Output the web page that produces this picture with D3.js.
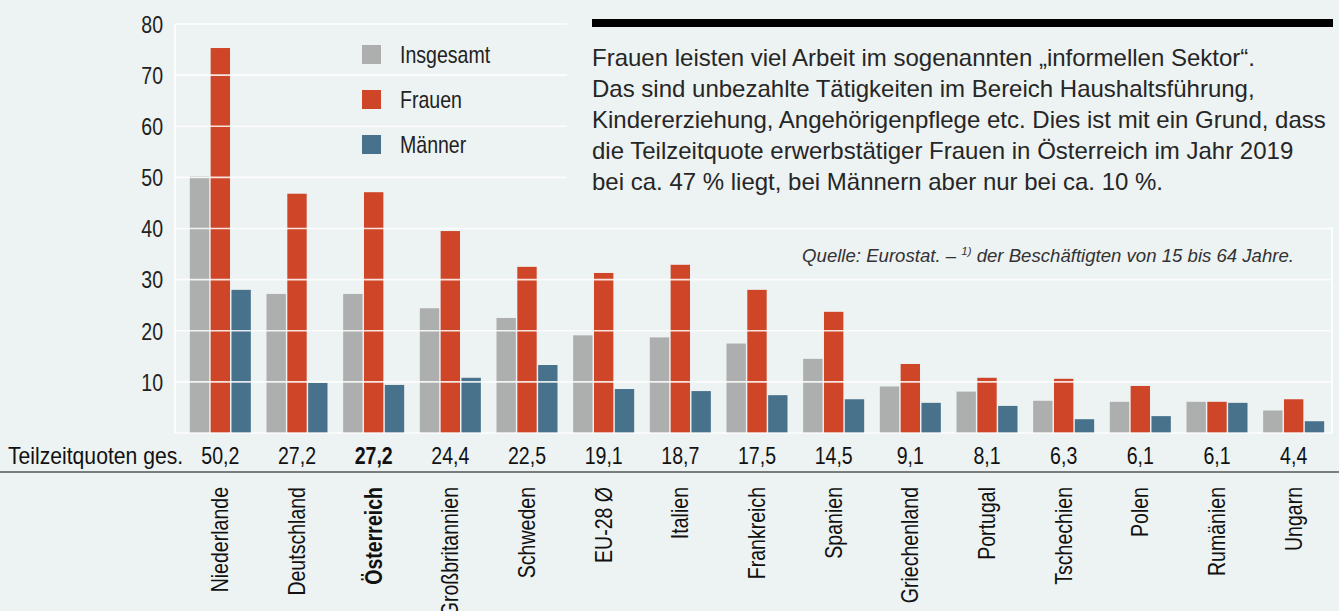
<!DOCTYPE html>
<html><head><meta charset="utf-8">
<script src="https://cdn.jsdelivr.net/npm/d3@7"></script>
<style>
html,body{margin:0;padding:0;background:#edf2f2;}
svg{display:block;}
text{font-family:"Liberation Sans",Arial,Helvetica,sans-serif;}
</style></head>
<body>
<svg id="c" width="1339" height="611"></svg>
<script>
const countries = ["Niederlande","Deutschland","Österreich","Großbritannien","Schweden","EU-28 Ø","Italien","Frankreich","Spanien","Griechenland","Portugal","Tschechien","Polen","Rumänien","Ungarn"];
const insgesamt = [50.2,27.2,27.2,24.4,22.5,19.1,18.7,17.5,14.5,9.1,8.1,6.3,6.1,6.1,4.4];
const frauen    = [75.3,46.8,47.1,39.5,32.5,31.3,32.9,28.0,23.7,13.5,10.8,10.6,9.2,6.1,6.6];
const maenner   = [28.0,9.8,9.4,10.8,13.3,8.6,8.2,7.4,6.6,5.9,5.3,2.7,3.3,5.9,2.3];
const totalLabels = ["50,2","27,2","27,2","24,4","22,5","19,1","18,7","17,5","14,5","9,1","8,1","6,3","6,1","6,1","4,4"];
const seriesNames = ["Insgesamt","Frauen","Männer"];
const yTicks = [10,20,30,40,50,60,70,80];
const rowLabel = "Teilzeitquoten ges.";
const textLines = [
  "Frauen leisten viel Arbeit im sogenannten „informellen Sektor“.",
  "Das sind unbezahlte Tätigkeiten im Bereich Haushaltsführung,",
  "Kindererziehung, Angehörigenpflege etc. Dies ist mit ein Grund, dass",
  "die Teilzeitquote erwerbstätiger Frauen in Österreich im Jahr 2019",
  "bei ca. 47 % liegt, bei Männern aber nur bei ca. 10 %."
];
const highlight = "Österreich";

const colors = {"Insgesamt":"#adaeae","Frauen":"#cf4527","Männer":"#48728c"};
const seriesData = {"Insgesamt":insgesamt,"Frauen":frauen,"Männer":maenner};

const svg = d3.select("#c");
const bg = "#edf2f2";
const left = 175, right = 1332;
const SX = 0.85, FS = 23; // condensed look

const y = d3.scaleLinear().domain([0,80]).range([433,24]);
const x = d3.scaleBand().domain(countries).range([182,1332]);
const x1 = d3.scaleBand().domain(seriesNames).range([-30.5,30.5]).paddingInner(0.07);
const cx = c => x(c) + x.bandwidth()/2;

// bars
const g = svg.append("g");
countries.forEach((c,i)=>{
  seriesNames.forEach(s=>{
    const v = seriesData[s][i];
    g.append("rect")
      .attr("x", cx(c) + x1(s))
      .attr("width", x1.bandwidth())
      .attr("y", y(v))
      .attr("height", y(0)-y(v))
      .attr("fill", colors[s]);
  });
});

// gridlines (on top of bars)
const grid = svg.append("g");
grid.selectAll("line.g").data([0].concat(yTicks)).join("line")
  .attr("x1", left).attr("x2", right)
  .attr("y1", d=>y(d)).attr("y2", d=>y(d))
  .attr("stroke","#ffffff").attr("stroke-opacity",0.85).attr("stroke-width",1.6);
grid.append("line").attr("x1",left).attr("x2",left).attr("y1",y(80)).attr("y2",y(0))
  .attr("stroke","#fff").attr("stroke-width",1.6);
grid.append("line").attr("x1",right).attr("x2",right).attr("y1",y(80)).attr("y2",y(0))
  .attr("stroke","#fff").attr("stroke-width",1.6);

// condensed text helper
function ctext(parent, tx, ty, str, opts={}){
  const t = parent.append("text")
    .attr("transform", `translate(${tx},${ty})${opts.rot?` rotate(${opts.rot})`:""} scale(${opts.sx||SX},1)`)
    .attr("font-size", opts.fs||FS).attr("fill", opts.fill||"#1a1a1a")
    .attr("text-anchor", opts.anchor||"start")
    .text(str);
  if (opts.dy) t.attr("dy", opts.dy);
  if (opts.bold) t.attr("font-weight","bold");
  return t;
}

// y axis labels (axis used for positions)
const yAxis = d3.axisLeft(y).tickValues(yTicks).tickSize(0).tickPadding(12);
const ya = svg.append("g").attr("transform",`translate(${left},0)`).call(yAxis);
ya.select(".domain").remove();
ya.selectAll(".tick text").remove();
ya.selectAll(".tick").each(function(d){
  ctext(d3.select(this), -12, 0, String(d), {anchor:"end", dy:"0.36em", fill:"#222"});
});

// text box covering upper right
svg.append("rect").attr("x",567).attr("y",0).attr("width",1339-567).attr("height",y(40)-1.5).attr("fill",bg);
svg.append("rect").attr("x",592).attr("y",19).attr("width",741).attr("height",8).attr("fill","#000");
const tb = svg.append("text").attr("font-size",24).attr("fill","#262626");
textLines.forEach((t,i)=>{
  tb.append("tspan").attr("x",592).attr("y",66+i*31).text(t);
});

// source
const q = svg.append("text").attr("x",1294).attr("y",262).attr("text-anchor","end")
  .attr("font-style","italic").attr("font-size",18.6).attr("fill","#333");
q.append("tspan").text("Quelle: Eurostat. – ");
q.append("tspan").attr("font-size",11.5).attr("dy",-7).text("1)");
q.append("tspan").attr("dy",7).text(" der Beschäftigten von 15 bis 64 Jahre.");

// legend
const lg = svg.append("g");
seriesNames.forEach((s,i)=>{
  lg.append("rect").attr("x",362).attr("y",45+i*45).attr("width",19).attr("height",19).attr("fill",colors[s]);
  ctext(lg, 400, 55+i*45, s, {dy:"0.36em", fill:"#222"});
});

// values row
ctext(svg, 8, 464, rowLabel, {fill:"#111", sx:0.92});
countries.forEach((c,i)=>{
  ctext(svg, cx(c), 464, totalLabels[i], {anchor:"middle", fill:"#111", bold: c===highlight});
});

svg.append("line").attr("x1",0).attr("x2",1339).attr("y1",472).attr("y2",472)
  .attr("stroke","#555").attr("stroke-width",1.5);

// country labels
countries.forEach(c=>{
  ctext(svg, cx(c), 487, c, {rot:-90, anchor:"end", dy:"0.35em", fill:"#111", bold: c===highlight});
});
</script>
</body></html>
